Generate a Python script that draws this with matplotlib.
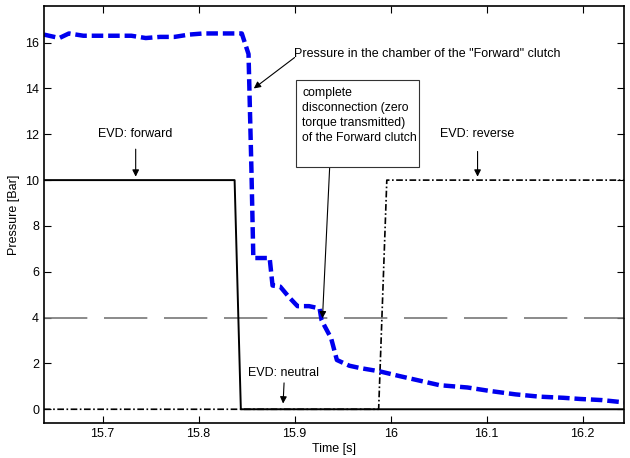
import numpy as np
import matplotlib.pyplot as plt
from matplotlib.patches import Rectangle

plt.rcParams['font.family'] = ['Liberation Sans', 'DejaVu Sans']

# EVD command signals
t_fwd = [15.639, 15.8375, 15.844, 16.243]
p_fwd = [10, 10, 0, 0]
t_rev = [15.639, 15.9875, 15.996, 16.243]
p_rev = [0, 0, 10, 10]

# threshold line
t_thr = [15.639, 16.243]
p_thr = [4, 4]

# pressure in the chamber of the Forward clutch
t_p = [15.639, 15.655, 15.665, 15.68, 15.70, 15.73, 15.745, 15.76, 15.775, 15.79,
       15.805, 15.82, 15.845, 15.852, 15.855, 15.857, 15.874, 15.877, 15.885,
       15.894, 15.903, 15.915, 15.926, 15.928, 15.931, 15.938, 15.944, 15.957,
       15.968, 15.989, 16.009, 16.03, 16.051, 16.08, 16.103, 16.13, 16.155,
       16.18, 16.197, 16.22, 16.243]
p_p = [16.35, 16.2, 16.4, 16.3, 16.3, 16.3, 16.2, 16.25, 16.25, 16.35,
       16.4, 16.4, 16.4, 15.5, 10.5, 6.6, 6.6, 5.4, 5.35,
       4.9, 4.5, 4.5, 4.4, 3.9, 3.65, 3.1, 2.15, 1.9,
       1.8, 1.65, 1.45, 1.25, 1.05, 0.95, 0.8, 0.65, 0.55,
       0.5, 0.45, 0.4, 0.3]

fig = plt.figure(figsize=(6.3, 4.58), dpi=100)
ax = fig.add_axes([0.0698, 0.0764, 0.9207, 0.9106])

ax.plot(t_thr, p_thr, color='#777777', lw=1.2, dashes=(26, 10))
ax.plot(t_fwd, p_fwd, color='black', lw=1.4)
ax.plot(t_rev, p_rev, color='black', lw=1.2, dashes=(4, 1.5, 1, 1.5))
ax.plot(t_p, p_p, color='#0000ee', lw=3.2, dashes=(2.6, 1.1))

ax.set_xlim(15.639, 16.243)
ax.set_ylim(-0.6, 17.6)
ax.set_xticks([15.7, 15.8, 15.9, 16.0, 16.1, 16.2])
ax.set_xticklabels(['15.7', '15.8', '15.9', '16', '16.1', '16.2'])
ax.set_yticks(np.arange(0, 17, 2))
ax.tick_params(direction='in', top=True, right=True, labelsize=9, length=5)
for s in ax.spines.values():
    s.set_linewidth(1.2)
ax.set_xlabel('Time [s]', fontsize=9, labelpad=2)
ax.set_ylabel('Pressure [Bar]', fontsize=9, labelpad=4)

arr = dict(arrowstyle='-|>', color='black', lw=0.8, mutation_scale=10, shrinkA=0, shrinkB=0)

ax.text(15.8995, 15.5, 'Pressure in the chamber of the "Forward" clutch', fontsize=9,
        ha='left', va='center')
ax.annotate('', xy=(15.8575, 14.0), xytext=(15.9, 15.35), arrowprops=arr)

ax.text(15.7345, 12.0, 'EVD: forward', fontsize=9, ha='center', va='center')
ax.annotate('', xy=(15.7345, 10.15), xytext=(15.7345, 11.35), arrowprops=arr)

ax.text(16.0905, 12.0, 'EVD: reverse', fontsize=9, ha='center', va='center')
ax.annotate('', xy=(16.0905, 10.15), xytext=(16.0905, 11.25), arrowprops=arr)

ax.text(15.888, 1.6, 'EVD: neutral', fontsize=9, ha='center', va='center')
ax.annotate('', xy=(15.888, 0.25), xytext=(15.889, 1.15), arrowprops=arr)

ax.annotate('', xy=(15.929, 3.97), xytext=(15.9365, 10.57), arrowprops=arr)
ax.add_patch(Rectangle((15.9015, 10.57), 0.1275, 3.8, fc='white', ec='#333333', lw=0.8, zorder=3))
ax.text(15.908, 14.05, 'complete\ndisconnection (zero\ntorque transmitted)\nof the Forward clutch',
        fontsize=8.8, ha='left', va='top', linespacing=1.32, zorder=4)

fig.savefig('out.png', dpi=100)
